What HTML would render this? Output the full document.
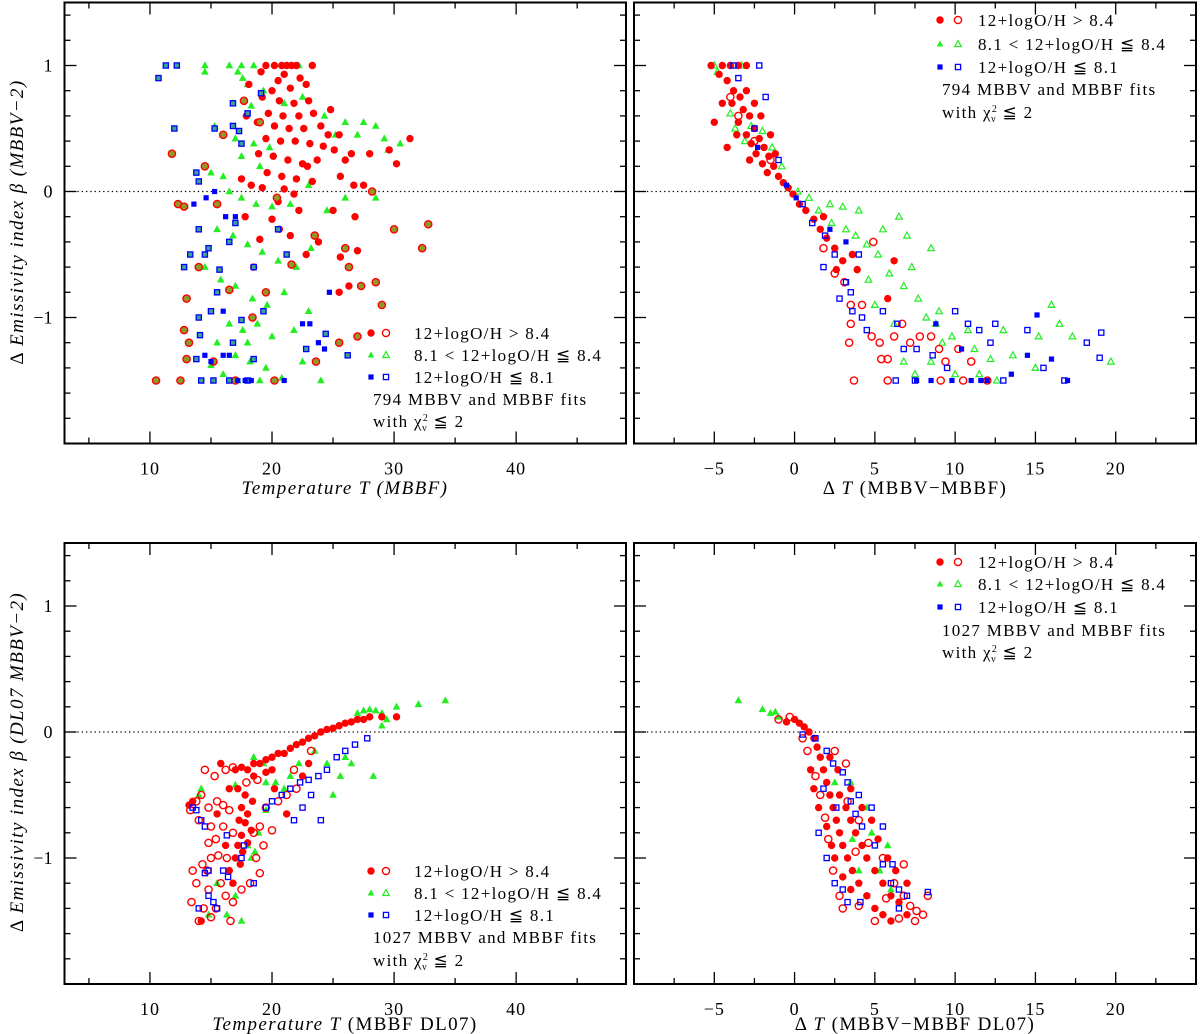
<!DOCTYPE html>
<html><head><meta charset="utf-8"><style>
html,body{margin:0;padding:0;background:#fff;}
svg{display:block;font-family:"Liberation Serif","DejaVu Serif",serif;}
</style></head><body>
<svg id="chart" width="1200" height="1034" viewBox="0 0 1200 1034" xmlns="http://www.w3.org/2000/svg"></svg>
<script>
// ---------- DATA: top-left (T MBBF, delta beta) ----------
const tlRedFilled=[[19.5,1],[20.2,1],[20.8,1],[21.2,1],[21.6,1],[22,1],[23.3,1],[21,0.93],[20.5,0.88],[22.3,0.9],[20,0.8],[21.5,0.82],[22.8,0.85],[19.2,0.75],[20.6,0.72],[21.8,0.7],[23,0.72],[19.7,0.62],[20.9,0.6],[22.2,0.6],[23.4,0.62],[18.8,0.55],[20.2,0.52],[21.4,0.5],[22.6,0.5],[24,0.52],[24.6,0.45],[25.5,0.45],[19.5,0.42],[20.7,0.4],[21.9,0.4],[23.1,0.38],[24.2,0.36],[25.1,0.33],[26.5,0.3],[28,0.3],[29.6,0.33],[31.3,0.42],[30.2,0.22],[18.9,0.3],[20.1,0.28],[21.3,0.25],[22.5,0.22],[23.7,0.25],[19.6,0.15],[20.8,0.12],[22,0.1],[23.3,0.08],[25.6,0.12],[26.7,0.05],[21,0.02],[21.8,-0.02],[20.5,-0.08],[19.2,0.03],[27.5,0.05],[18.3,0.05],[17.5,0.1],[17.8,-0.2],[20,-0.22],[22.2,-0.15],[25,-0.15],[26.8,-0.2],[21.5,-0.35],[19,-0.38],[20.6,-0.3],[23.8,-0.4],[25.6,-0.52],[27,-0.47],[18.5,-0.6],[22.8,-0.5],[25.5,-0.8],[26.3,-0.75],[17.9,0.6],[18.1,0.85],[19.1,0.95],[26,0.25],[24.8,0.65],[22.9,0.2]];
const tlRedOpen=[[12.5,-1.5],[10.5,-1.5],[13,-1.33],[13.2,-1.2],[12.8,-1.1],[13,-0.85],[14,-0.6],[12.3,-0.1],[12.8,-0.12],[11.8,0.3],[14.5,0.2],[16,0.45],[17.7,0.72],[19,0.55],[20.4,-0.05],[23.5,-0.35],[26,-0.45],[27.3,-0.75],[29,-0.9],[32.3,-0.45],[32.8,-0.26],[30,-0.3],[28.5,-0.72],[25.5,-1.2],[27,-1.15],[23.6,-1.35],[20.2,-1.5],[17,-1.5],[15.2,-1.35],[18.4,-1.0],[16.5,-0.78],[21.6,-0.58],[15.5,-0.1],[19.5,-0.8],[26.3,-0.6],[28.2,0.0]];
const tlGreen=[[14.5,1],[16.5,1],[17.5,1],[18.5,1],[22.2,1],[14.5,0.95],[17.2,0.95],[17.6,0.9],[18,0.85],[19.3,0.8],[16.8,0.7],[18.3,0.68],[21,0.7],[22.5,0.75],[24.3,0.6],[26,0.55],[27.5,0.55],[28.5,0.52],[25.2,0.45],[27,0.45],[29.2,0.42],[30.5,0.38],[29.5,0.33],[15.3,0.52],[16,0.45],[17,0.42],[18.5,0.38],[19.8,0.35],[17.5,0.28],[19,0.2],[16,0.12],[15,0.15],[16.5,0.0],[17.5,-0.05],[18.7,-0.1],[20,-0.12],[21.5,-0.1],[23,0.05],[24.5,-0.15],[26,-0.05],[28.5,-0.05],[15.5,-0.3],[16.8,-0.35],[18,-0.42],[19.2,-0.48],[20.5,-0.55],[22,-0.6],[23.2,-0.45],[14.5,-0.6],[15.8,-0.7],[17,-0.75],[18.4,-0.85],[19.6,-0.9],[21,-0.8],[16.5,-1.05],[17.6,-1.1],[18.8,-1.05],[20,-1.15],[15.5,-1.2],[17,-1.3],[18.2,-1.35],[19.5,-1.4],[16,-1.45],[17.2,-1.5],[19,-1.5],[20.8,-1.48],[22.5,-1.35],[24,-1.5],[15,-1.38],[18,-1.2],[21.8,-1.1],[23,-0.95]];
const tlBlueOpen=[[10.7,0.9],[11.3,1],[12.2,1],[12,0.5],[13.8,0.15],[14,0.08],[15.3,0.5],[16.8,0.52],[17.5,0.38],[17.3,0.48],[16.8,0.7],[18,0.62],[19.1,0.78],[14.5,-0.5],[14.8,-0.45],[13.3,-0.5],[12.8,-0.6],[15.7,-0.62],[14,-1],[15,-0.95],[14.1,-1.14],[13.8,-1.33],[14.2,-1.5],[15.2,-1.5],[16.5,-1.5],[18,-1.5],[18.5,-1.33],[16.8,-1.2],[17.5,-1.02],[15.5,-0.8],[16.5,-0.4],[17,-0.25],[18.5,-0.6],[19.3,-0.95],[20.5,-0.3],[21.2,-0.5],[22.8,-1.25],[24.4,-1.13],[26.2,-1.3],[14,-0.3]];
const tlBlueFilled=[[16,-0.95],[15.3,0],[14.6,-0.05],[16.2,-0.2],[17,-0.2],[14.5,-1.3],[15,-1.35],[16.5,-1.3],[17.2,-1.5],[17.8,-1.5],[18.3,-1.5],[22.5,-1.05],[23.1,-1.05],[24.7,-0.8],[23.8,-1.2],[24.3,-1.25],[21,-1.5],[16,-1.3],[13.6,-0.1]];
// ---------- DATA: top-right (delta T, delta beta) ----------
const trRedFilled=[[-5.2,1],[-4.5,1],[-4,1],[-3.5,1],[-3,1],[-4.7,0.93],[-4.2,0.88],[-3.8,0.8],[-3.4,0.75],[-3.9,0.7],[-3.2,0.65],[-2.8,0.6],[-3.5,0.55],[-2.5,0.5],[-3,0.45],[-2.2,0.42],[-2.7,0.38],[-1.9,0.35],[-2.4,0.3],[-1.6,0.28],[-2,0.22],[-1.3,0.2],[-1.7,0.15],[-1,0.12],[-0.7,0.07],[-0.4,0.03],[-0.1,-0.02],[0.3,-0.1],[0.7,-0.15],[1.2,-0.22],[1.6,-0.3],[2,-0.37],[2.5,-0.45],[3,-0.55],[-4.2,0.35],[-3.6,0.45],[-2.1,0.6],[-1.5,0.45],[-4.5,0.7],[-3,0.8],[-2.5,0.7],[1.8,-0.2],[3.6,-0.5],[3.9,-0.62],[2.6,-0.62],[6.2,-0.55],[5.8,-0.85],[-5,0.55],[-2.8,0.25],[-1.2,0.3]];
const trRedOpen=[[1.8,-0.45],[2.5,-0.65],[3.1,-0.72],[3.5,-0.9],[4.2,-0.9],[3.5,-1.05],[3.4,-1.2],[4.8,-1.15],[5.3,-1.2],[5.4,-1.33],[5.8,-1.33],[6.2,-1.15],[6.7,-1.05],[7.2,-1.2],[7.8,-1.15],[8.5,-1.15],[9,-1.25],[9.4,-1.35],[10.2,-1.25],[11,-1.35],[12,-1.5],[3.7,-1.5],[5.8,-1.5],[9.1,-1.5],[10.5,-1.5],[-2.5,0.4],[-3.5,0.6],[-4,0.75],[-1.5,0.25],[4.9,-0.4]];
const trGreen=[[-5,1],[-3.3,1],[-4.8,0.95],[-4,0.62],[-3.7,0.5],[-2.7,0.52],[-3.1,0.4],[-2,0.48],[-1.4,0.35],[-0.8,0.2],[0.2,0],[0.9,-0.05],[1.5,-0.15],[2.3,-0.25],[3.2,-0.3],[3.8,-0.35],[4.5,-0.42],[5.2,-0.5],[5.9,-0.65],[6.8,-0.75],[7.3,-0.6],[7.7,-0.85],[8.2,-1],[8.8,-1.05],[9.8,-1.15],[10.8,-1.1],[11.2,-1.25],[12.2,-1.33],[13,-1.1],[4.6,-0.7],[5,-0.9],[6.2,-1.05],[6.8,-1.35],[7.5,-1.45],[8.5,-1.35],[9.2,-1.2],[10,-1.45],[11.5,-1.45],[12.6,-1.5],[13.6,-1.3],[15.2,-1.15],[16,-0.9],[16.5,-1.05],[17.3,-1.15],[19.7,-1.35],[15,-1.4],[8.5,-0.45],[6.5,-0.2],[4,-0.15],[7,-0.35],[5.5,-0.3],[3,-0.12],[2.2,-0.1],[9,-0.95]];
const trBlueOpen=[[-3.8,1],[-3.5,0.9],[-2.2,1],[-1.8,0.75],[-2.5,0.5],[-1,0.25],[0.5,-0.1],[1.1,-0.25],[1.9,-0.35],[2.5,-0.5],[1.8,-0.6],[3.2,-0.72],[3.5,-0.8],[2.8,-0.85],[3.6,-0.95],[4.2,-1.0],[4.5,-1.1],[5.5,-0.95],[6.4,-1.05],[6.8,-1.25],[7.6,-1.25],[8.6,-1.3],[9.5,-1.4],[10.8,-1.05],[11.5,-1.1],[12.2,-1.2],[13,-1.5],[14.5,-1.1],[15.5,-1.4],[16.8,-1.5],[18.2,-1.2],[19.1,-1.12],[19,-1.32],[7.5,-1.5],[6.3,-1.5],[4,-0.5],[12.5,-1.05],[10,-0.95]];
const trBlueFilled=[[-2.3,0.35],[-0.5,0.05],[0.1,-0.05],[2.2,-0.3],[3.2,-0.4],[7.6,-1.5],[8.5,-1.5],[9.8,-1.5],[11,-1.5],[11.6,-1.5],[12,-1.5],[15.1,-0.98],[16,-1.33],[17,-1.5],[14.5,-1.3],[8.8,-1.05],[10.4,-1.25],[13.5,-1.45]];
// ---------- DATA: bottom-left (T MBBF DL07, delta beta) ----------
const blRedFilled=[[17,-0.3],[17.5,-0.28],[18,-0.3],[18.5,-0.25],[19,-0.25],[19.5,-0.22],[20,-0.2],[20.5,-0.17],[21,-0.17],[21.5,-0.13],[22,-0.1],[22.5,-0.08],[23,-0.05],[23.5,-0.03],[24,0],[24.5,0.02],[25,0.03],[25.5,0.05],[26,0.07],[26.5,0.08],[27,0.1],[27.5,0.1],[28,0.12],[29,0.12],[30.2,0.12],[19.5,-0.32],[20,-0.3],[18.5,-0.35],[17.2,-0.45],[17.8,-0.5],[18.4,-0.55],[17.5,-0.6],[18,-0.65],[17.3,-0.7],[17.8,-0.72],[18.3,-0.78],[17.5,-0.82],[18,-0.88],[17.2,-0.9],[17.6,-0.95],[17,-1],[17.4,-1.05],[16.5,-1.1],[16.8,-1.2],[13.5,-0.55],[13.2,-0.58],[15.5,-0.65],[14.2,-1.5],[16.2,-0.9],[20.2,-0.45],[21.2,-0.65],[22.5,-0.35],[23,-0.25],[16.5,-0.45],[15.8,-0.25]];
const blRedOpen=[[14.5,-0.3],[15.3,-0.35],[16.2,-0.3],[16.8,-0.28],[13.8,-0.55],[14.2,-0.5],[14.8,-0.6],[15.5,-0.55],[16,-0.58],[14,-0.7],[15,-0.75],[16,-0.75],[16.8,-0.8],[15.4,-0.85],[14.8,-0.88],[15.6,-0.98],[16.3,-1],[14.3,-1.05],[15,-1],[14.7,-1.1],[13.5,-1.1],[13.8,-1.2],[14.8,-1.25],[15.8,-1.2],[16.2,-1.3],[13.4,-1.35],[14.4,-1.4],[15.4,-1.4],[16.8,-1.35],[14,-1.5],[15,-1.47],[16.6,-1.5],[18.5,-0.8],[19,-0.75],[19.3,-0.9],[18.7,-1.0],[19.5,-0.6],[20.5,-0.55],[20,-0.78],[21.2,-0.5],[18.2,-1.2],[19,-1.12],[17.5,-1.25],[16.5,-0.62],[13.3,-0.62],[17.9,-0.4],[21.8,-0.3],[23.2,-0.15],[22,-0.45],[18.8,-0.38]];
const blGreen=[[18.5,-0.2],[19.3,-0.25],[20.3,-0.4],[21,-0.45],[21.5,-0.35],[22.2,-0.25],[23.5,-0.15],[24.5,-0.25],[25,-0.5],[25.6,-0.35],[26,-0.2],[26.5,-0.25],[27,0.15],[27.5,0.17],[28,0.18],[28.5,0.17],[29,0.15],[29.4,0.1],[29,0.05],[30.2,0.2],[32,0.22],[34.2,0.25],[28.3,-0.35],[18,-0.9],[18.3,-1],[18.6,-0.95],[18.9,-0.8],[17,-1.3],[16.8,-1.2],[15.5,-1.2],[16.3,-1.45],[17.5,-1.5],[14.8,-1.45],[19.5,-0.62],[14.2,-0.45],[14,-0.5],[17,-0.42],[19.5,-0.4]];
const blBlue=[[13.5,-0.6],[13.8,-0.62],[14.2,-0.7],[14.5,-0.75],[16,-1.1],[16.4,-1.15],[14.8,-1.1],[14.5,-1.12],[17.5,-1],[17.7,-0.9],[15.2,-1.35],[15.5,-1.4],[14.8,-1.3],[19.5,-0.6],[20,-0.55],[20.8,-0.5],[21.5,-0.45],[22.3,-0.4],[23,-0.38],[23.8,-0.35],[24.5,-0.3],[25.3,-0.2],[26,-0.15],[26.8,-0.1],[27.8,-0.05],[21.8,-0.7],[22.5,-0.6],[24,-0.7],[23.2,-0.5],[16.3,-0.82],[14,-1.4],[18.5,-1.2]];
// ---------- DATA: bottom-right (delta T DL07, delta beta) ----------
const brGreen=[[-3.5,0.25],[-2,0.18],[-1.5,0.15],[-1.2,0.16],[-1,0.12],[-0.5,0.1],[4.5,-0.6],[4.8,-0.8],[5.3,-1.1],[4,-1.1],[5.8,-0.9],[3.6,-0.85],[6,-1.25],[6.5,-1.35],[4.5,-1.3],[2.5,-0.4],[3.5,-0.4]];
const brRedFilled=[[0,0.1],[0.3,0.07],[0.6,0.04],[0.9,0],[1.2,-0.05],[1.4,-0.12],[1.6,-0.2],[1.8,-0.3],[2,-0.4],[2.2,-0.5],[2.4,-0.6],[2.6,-0.7],[2.8,-0.8],[3,-0.9],[3.3,-1],[3.6,-1.1],[4,-1.2],[4.5,-1.3],[5,-1.4],[5.5,-1.45],[6,-1.5],[2.8,-0.5],[3.2,-0.6],[3.5,-0.7],[3.8,-0.8],[4.2,-0.9],[4.5,-1],[5,-1.1],[5.5,-1.2],[6,-1.3],[6.5,-1.35],[7,-1.45],[1.5,-0.6],[2,-0.75],[2.3,-0.9],[2.5,-1.0],[3,-1.15],[3.5,-1.25],[4.2,-0.6],[4.8,-0.7],[5.2,-0.85],[5.8,-1.0],[6.3,-1.1],[7,-1.2],[2.2,-0.2],[2.7,-0.3],[3.5,-0.45],[1,-0.3],[1.2,-0.45],[-0.5,0.08]];
const brRedOpen=[[0.8,-0.15],[1.3,-0.35],[1.6,-0.5],[1.9,-0.68],[2.1,-0.85],[2.4,-1.1],[2.8,-1.3],[3,-1.4],[3.3,-0.55],[4,-0.7],[4.6,-0.88],[5.5,-1.0],[6.2,-1.2],[6.8,-1.3],[7.2,-1.38],[7.6,-1.42],[8,-1.45],[8.3,-1.3],[7.5,-1.5],[6.5,-1.48],[4,-1.38],[5,-1.5],[3.8,-0.95],[5.7,-1.32],[2.5,-0.15],[3.2,-0.25],[0.5,-0.05],[-1,0.1],[-0.3,0.12],[6.8,-1.05]];
const brBlue=[[0.5,-0.02],[1.3,-0.05],[2,-0.15],[2.4,-0.25],[3,-0.32],[3.3,-0.4],[1.8,-0.45],[2.6,-0.6],[3.5,-0.55],[4,-0.5],[4.2,-0.75],[4.8,-0.6],[3.8,-0.65],[5,-0.9],[5.5,-1.05],[6.1,-1.05],[6,-1.2],[6.5,-1.25],[7,-1.3],[8.3,-1.27],[2.5,-1.2],[3,-1.25],[3.3,-1.35],[4.1,-1.35],[6.5,-1.4],[1.5,-0.8],[2,-1],[5.5,-0.75]];
// ---------- tick labels ----------
const tempTicks=[10,20,30,40];
const dtTicks=[-5,0,5,10,15,20];
const betaTicks=[-1,0,1];

const svg=document.getElementById('chart');
const NS='http://www.w3.org/2000/svg';
function mk(tag,attrs,parent){const e=document.createElementNS(NS,tag);for(const k in attrs)e.setAttribute(k,attrs[k]);(parent||svg).appendChild(e);return e;}

const RED='#ff0000',GREEN='#22ee22',BLUE='#0000ff';

function panel(name,px0,px1,py0,py1,xmin,xmax,xMajor,xMinor,xTicks){
  const g=mk('g',{});
  
  
  const ymin=-2,ymax=1.5;
  const sx=v=>px0+(v-xmin)/(xmax-xmin)*(px1-px0);
  const sy=v=>py1-(v-ymin)/(ymax-ymin)*(py1-py0);
  const zl=mk('line',{x1:px0,x2:px1,y1:sy(0),y2:sy(0),stroke:'#000','stroke-width':1.3,'stroke-dasharray':'1.3 3'},g);
  
  
  const tk=mk('g',{stroke:'#000','stroke-width':1.3},g);
  
  
  for(let v=Math.ceil(xmin/xMinor)*xMinor;v<=xmax+1e-9;v+=xMinor){
    const maj=Math.abs(v/xMajor-Math.round(v/xMajor))<1e-6;const L=maj?12:6;const x=sx(v);
    mk('line',{x1:x,x2:x,y1:py1,y2:py1-L},tk);mk('line',{x1:x,x2:x,y1:py0,y2:py0+L},tk);
  }
  for(let v=-2;v<=1.5+1e-9;v+=0.2){
    const maj=Math.abs(v-Math.round(v))<1e-6;const L=maj?12:6;const y=sy(v);
    mk('line',{x1:px0,x2:px0+L,y1:y,y2:y},tk);mk('line',{x1:px1,x2:px1-L,y1:y,y2:y},tk);
  }
  const fr=mk('rect',{x:px0,y:py0,width:px1-px0,height:py1-py0,fill:'none',stroke:'#000','stroke-width':2},g);
  
  
  xTicks.forEach(v=>{const t=mk('text',{x:sx(v),y:py1+31,'text-anchor':'middle','font-size':18,'letter-spacing':1},g);t.textContent=(v<0?'\u2212'+(-v):v);
    
    });
  if(px0<100) betaTicks.forEach(v=>{const t=mk('text',{x:px0-12,y:sy(v)+6,'text-anchor':'end','font-size':18},g);t.textContent=(v<0?'\u2212'+(-v):v);
    
    });
  return {g,sx,sy};
}

function draw(p,data,shape,color,filled,inner){
  const g=mk('g',{},p.g);
  
  
  data.forEach(d=>{
    const x=p.sx(d[0]),y=p.sy(d[1]);let e;
    if(shape==='c') e=filled?mk('circle',{cx:x,cy:y,r:3.7,fill:color},g):mk('circle',{cx:x,cy:y,r:3.6,fill:inner||'none',stroke:color,'stroke-width':1.4},g);
    else if(shape==='s') e=filled?mk('rect',{x:x-2.6,y:y-2.6,width:5.2,height:5.2,fill:color},g):mk('rect',{x:x-2.6,y:y-2.6,width:5.2,height:5.2,fill:inner||'none',stroke:color,'stroke-width':1.3},g);
    else e=mk('polygon',{points:`${x},${y-3.5} ${x-3.3},${y+2.5} ${x+3.3},${y+2.5}`,fill:filled?color:'none',stroke:color,'stroke-width':filled?0.6:1.2},g);
    
    
  });
}

function legend(p,x1,x2,xt,rows,count){
  const g=mk('g',{'font-size':17,'letter-spacing':1.3},p.g);
  
  
  const items=[['c',RED,'12+logO/H > 8.4'],['t',GREEN,'8.1 < 12+logO/H \u2266  8.4'],['s',BLUE,'12+logO/H \u2266  8.1']];
  items.forEach((it,i)=>{
    const y=rows[i];const row=mk('g',{},g);
    
    
    const s=it[0],c=it[1];
    if(s==='c'){mk('circle',{cx:x1,cy:y,r:3.7,fill:c},row);mk('circle',{cx:x2,cy:y,r:3.6,fill:'none',stroke:c,'stroke-width':1.4},row);}
    else if(s==='s'){mk('rect',{x:x1-2.6,y:y-2.6,width:5.2,height:5.2,fill:c},row);mk('rect',{x:x2-2.6,y:y-2.6,width:5.2,height:5.2,fill:'none',stroke:c,'stroke-width':1.3},row);}
    else{mk('polygon',{points:`${x1},${y-3.5} ${x1-3.3},${y+2.5} ${x1+3.3},${y+2.5}`,fill:c},row);mk('polygon',{points:`${x2},${y-3.5} ${x2-3.3},${y+2.5} ${x2+3.3},${y+2.5}`,fill:'none',stroke:c,'stroke-width':1.2},row);}
    const t=mk('text',{x:xt,y:y+6,'xml:space':'preserve'},row);t.textContent=it[2];
  });
  const t1=mk('text',{x:x1+2,y:rows[3]+6,'xml:space':'preserve'},g);t1.textContent=count+'  MBBV and MBBF fits';
  
  
  const t2=mk('text',{x:x1+2,y:rows[4]+6},g);
  
  
  t2.innerHTML='with \u03c7<tspan font-size="10" dy="-6">2</tspan><tspan font-size="10" dx="-7" dy="10">\u03bd</tspan><tspan dy="-4"> \u2266 2</tspan>';
}

function text(x,y,html,attrs,name){const t=mk('text',Object.assign({x:x,y:y,'font-size':19,'text-anchor':'middle','letter-spacing':1.4},attrs||{}));t.innerHTML=html;
  
  return t;}

const tl=panel('panel-top-left',64.5,626,2.5,443.5,3,49,10,5,tempTicks);
draw(tl,tlGreen,'t',GREEN,true);
draw(tl,tlRedFilled,'c',RED,true);
draw(tl,tlRedOpen,'c',RED,false,'#8c9a2a');
draw(tl,tlBlueOpen,'s',BLUE,false,'#3aa58a');
draw(tl,tlBlueFilled,'s',BLUE,true);
legend(tl,371,386,414,[333,355,377,399,421],794);

const tr=panel('panel-top-right',634,1196,2.5,443.5,-10,25,5,2.5,dtTicks);
draw(tr,trGreen,'t',GREEN,false);
draw(tr,trRedFilled,'c',RED,true);
draw(tr,trRedOpen,'c',RED,false);
draw(tr,trBlueOpen,'s',BLUE,false);
draw(tr,trBlueFilled,'s',BLUE,true);
legend(tr,940,958,978,[20,44,67,89,112],794);

const bl=panel('panel-bottom-left',64.5,626,543,984,3,49,10,5,tempTicks);
draw(bl,blGreen,'t',GREEN,true);
draw(bl,blRedOpen,'c',RED,false);
draw(bl,blRedFilled,'c',RED,true);
draw(bl,blBlue,'s',BLUE,false);
legend(bl,371,386,414,[871,893,915,937,960],1027);

const br=panel('panel-bottom-right',634,1196,543,984,-10,25,5,2.5,dtTicks);
draw(br,brGreen,'t',GREEN,true);
draw(br,brRedOpen,'c',RED,false);
draw(br,brRedFilled,'c',RED,true);
draw(br,brBlue,'s',BLUE,false);
legend(br,940,958,978,[562,584,607,630,652],1027);

text(345,494,'<tspan font-style="italic">Temperature T (MBBF)</tspan>',{},'x-axis-title-top-left');
text(915,494,'\u0394 <tspan font-style="italic">T</tspan>  (MBBV\u2212MBBF)',{'xml:space':'preserve'},'x-axis-title-top-right');
text(345,1030,'<tspan font-style="italic">Temperature T</tspan>   (MBBF DL07)',{'xml:space':'preserve'},'x-axis-title-bottom-left');
text(915,1030,'\u0394 <tspan font-style="italic">T</tspan>   (MBBV\u2212MBBF DL07)',{'xml:space':'preserve'},'x-axis-title-bottom-right');
text(0,0,'\u0394 <tspan font-style="italic">Emissivity index  \u03b2  (MBBV\u22122)</tspan>',{transform:'translate(23,222) rotate(-90)','xml:space':'preserve'},'y-axis-title-top');
text(0,0,'\u0394 <tspan font-style="italic">Emissivity index  \u03b2  (DL07 MBBV\u22122)</tspan>',{transform:'translate(23,762) rotate(-90)','xml:space':'preserve'},'y-axis-title-bottom');
</script>
</body></html>
